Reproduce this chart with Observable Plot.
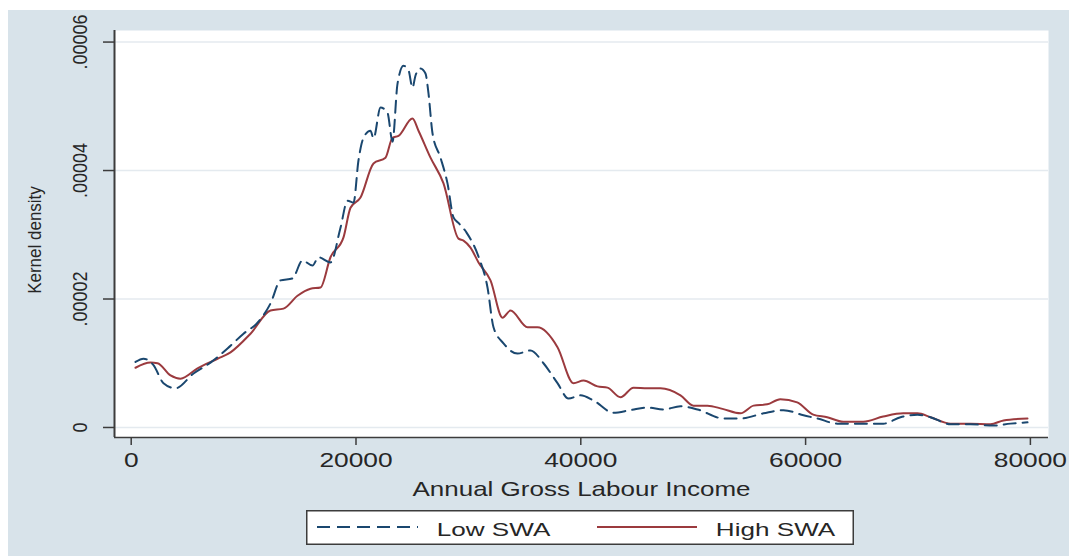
<!DOCTYPE html>
<html>
<head>
<meta charset="utf-8">
<script src="https://cdn.jsdelivr.net/npm/d3@7"></script>
<script src="https://cdn.jsdelivr.net/npm/@observablehq/plot@0.6"></script>
<style>
  body { margin: 0; background: #ffffff; font-family: "Liberation Sans", Arial, sans-serif; }
  #panel { position: absolute; left: 8px; top: 10px; width: 1061px; height: 546px; background: #d8e3ea; overflow: hidden; }
  #chart { position: absolute; left: 0; top: 0; }
  #legend { position: absolute; left: 298px; top: 500px; }
</style>
</head>
<body>
<div id="panel">
  <div id="chart"></div>
  <div id="legend"></div>
</div>
<script>
// Kernel density estimates of annual gross labour income, by SWA group
const lowIncome = [383, 1094, 1985, 2873, 3941, 5543, 7055, 8568, 9991, 11237, 12393, 13283, 14351, 15240, 16130, 16664, 17731, 18621, 19244, 19778, 20222, 20667, 21290, 21557, 22180, 22802, 23247, 23692, 24226, 24671, 25027, 25294, 25738, 26183, 26450, 26806, 27518, 28141, 28674, 29140, 29850, 30920, 31699, 32233, 33123, 34368, 35525, 36681, 37927, 38905, 39973, 41130, 42909, 44422, 45934, 47358, 48870, 50383, 52696, 54209, 56255, 58034, 59814, 61059, 62839, 65152, 66931, 68444, 69956, 71113, 72892, 74672, 76718, 78231, 79743];
const lowDensity = [1.02e-5, 1.07e-5, 0.97e-5, 0.69e-5, 0.61e-5, 0.84e-5, 1.01e-5, 1.23e-5, 1.46e-5, 1.63e-5, 1.93e-5, 2.29e-5, 2.32e-5, 2.60e-5, 2.52e-5, 2.65e-5, 2.57e-5, 3.11e-5, 3.53e-5, 3.50e-5, 4.16e-5, 4.51e-5, 4.62e-5, 4.50e-5, 4.98e-5, 4.90e-5, 4.45e-5, 5.35e-5, 5.63e-5, 5.56e-5, 5.29e-5, 5.48e-5, 5.59e-5, 5.51e-5, 5.20e-5, 4.58e-5, 4.20e-5, 3.80e-5, 3.27e-5, 3.18e-5, 3.03e-5, 2.65e-5, 2.18e-5, 1.56e-5, 1.31e-5, 1.15e-5, 1.20e-5, 1.00e-5, 0.69e-5, 0.45e-5, 0.50e-5, 0.42e-5, 0.23e-5, 0.27e-5, 0.31e-5, 0.28e-5, 0.33e-5, 0.28e-5, 0.14e-5, 0.14e-5, 0.22e-5, 0.27e-5, 0.19e-5, 0.14e-5, 0.06e-5, 0.06e-5, 0.06e-5, 0.16e-5, 0.20e-5, 0.16e-5, 0.05e-5, 0.05e-5, 0.03e-5, 0.06e-5, 0.08e-5];

const highIncome = [383, 1717, 2340, 3497, 4386, 5899, 7678, 8835, 10614, 12393, 13550, 14796, 15952, 16842, 17731, 18888, 19511, 20400, 21557, 22624, 23247, 23781, 25027, 25560, 26628, 27785, 29119, 29564, 30187, 30899, 31966, 33034, 33746, 35258, 36148, 37927, 39351, 40240, 41486, 42375, 43532, 44688, 45934, 47091, 48870, 50027, 51272, 52600, 54209, 55374, 56586, 57742, 59255, 60679, 61924, 63348, 65127, 66906, 68686, 69956, 71113, 72892, 74672, 76451, 77608, 79743];
const highDensity = [0.93e-5, 1.01e-5, 1.00e-5, 0.81e-5, 0.76e-5, 0.92e-5, 1.07e-5, 1.17e-5, 1.46e-5, 1.82e-5, 1.85e-5, 2.05e-5, 2.16e-5, 2.18e-5, 2.65e-5, 2.96e-5, 3.42e-5, 3.58e-5, 4.11e-5, 4.20e-5, 4.51e-5, 4.54e-5, 4.81e-5, 4.62e-5, 4.20e-5, 3.80e-5, 2.94e-5, 2.91e-5, 2.80e-5, 2.57e-5, 2.29e-5, 1.71e-5, 1.82e-5, 1.56e-5, 1.56e-5, 1.25e-5, 0.69e-5, 0.73e-5, 0.64e-5, 0.62e-5, 0.47e-5, 0.62e-5, 0.61e-5, 0.61e-5, 0.50e-5, 0.34e-5, 0.34e-5, 0.29e-5, 0.22e-5, 0.34e-5, 0.36e-5, 0.44e-5, 0.39e-5, 0.20e-5, 0.16e-5, 0.09e-5, 0.09e-5, 0.17e-5, 0.22e-5, 0.22e-5, 0.16e-5, 0.06e-5, 0.06e-5, 0.05e-5, 0.11e-5, 0.14e-5];

const xTicks = [0, 20000, 40000, 60000, 80000];
const xTickLabels = ["0", "20000", "40000", "60000", "80000"];
const yTicks = [0, 0.00002, 0.00004, 0.00006];
const yTickLabels = ["0", ".00002", ".00004", ".00006"];

const seriesNames = ["Low SWA", "High SWA"];
const xLabel = "Annual Gross Labour Income";
const yLabel = "Kernel density";

const navy = "#1a476f";
const maroon = "#9b3a3e";
const ink = "#262626";

const low = lowIncome.map((x, i) => ({income: x, density: lowDensity[i]}));
const high = highIncome.map((x, i) => ({income: x, density: highDensity[i]}));

// plot region extends a little beyond the tick range on every side
const xDomain = [-1486, 81611];
const yDomain = [-0.00000156, 0.0000618];

const chart = Plot.plot({
  width: 1061,
  height: 490,
  marginLeft: 106,
  marginRight: 21,
  marginTop: 20,
  marginBottom: 63,
  x: {domain: xDomain},
  y: {domain: yDomain},
  style: {background: "transparent", color: ink, fontFamily: "'Liberation Sans', Arial, sans-serif", overflow: "visible"},
  marks: [
    Plot.frame({fill: "white", stroke: null}),
    Plot.gridY(yTicks, {stroke: "#e4eaef", strokeOpacity: 1, strokeWidth: 1.5}),
    Plot.ruleX([xDomain[0]], {stroke: "#3c3c3c", strokeWidth: 2}),
    Plot.ruleY([yDomain[0]], {stroke: "#3c3c3c", strokeWidth: 1.6}),
    Plot.axisX({ticks: xTicks, tickSize: 8, tickPadding: 8, tickFormat: (d, i) => xTickLabels[i], fontSize: 19.5, label: null, stroke: "#3c3c3c", strokeWidth: 1.5}),
    Plot.axisY({ticks: yTicks, tickSize: 11, tickFormat: () => "", label: null, stroke: "#3c3c3c", strokeWidth: 1.5}),
    Plot.text(yTicks, {x: xDomain[0], y: (d) => d, text: (d, i) => yTickLabels[i], rotate: -90, dx: -34, fontSize: 18, textAnchor: "middle", lineAnchor: "middle", fill: ink}),
    Plot.text([xLabel], {frameAnchor: "bottom", dy: 52, fontSize: 20, textAnchor: "middle", lineAnchor: "middle", fill: ink}),
    Plot.text([yLabel], {frameAnchor: "left", dx: -80, dy: 6, rotate: -90, fontSize: 17, textAnchor: "middle", lineAnchor: "middle", fill: ink}),
    Plot.line(high, {x: "income", y: "density", stroke: maroon, strokeWidth: 2, curve: "monotone-x"}),
    Plot.line(low, {x: "income", y: "density", stroke: navy, strokeWidth: 2, strokeDasharray: "12,7", curve: "monotone-x"})
  ]
});
document.getElementById("chart").appendChild(chart);

// widen the lettering: horizontal text is drawn wider, rotated text a bit thicker
function stretchText(el, sx, sy) {
  let t = el.getAttribute("transform");
  if (!t) {
    const x = +el.getAttribute("x") || 0, y = +el.getAttribute("y") || 0;
    el.setAttribute("x", 0); el.setAttribute("y", 0);
    t = `translate(${x},${y})`;
  }
  el.setAttribute("transform", `${t} scale(${sx},${sy})`);
}
chart.querySelectorAll("text").forEach((el) => {
  const t = el.getAttribute("transform") || "";
  if (t.includes("rotate")) stretchText(el, 1, 1.12);
  else if (el.textContent === xLabel) stretchText(el, 1.3, 1);
  else stretchText(el, 1.35, 1);
});

// legend box below the plot
const leg = d3.select("#legend").append("svg").attr("width", 548).attr("height", 35);
leg.append("rect").attr("x", 0.75).attr("y", 0.75).attr("width", 546.5).attr("height", 33.5)
  .attr("fill", "white").attr("stroke", "#3c3c3c").attr("stroke-width", 1.5);
leg.append("line").attr("x1", 11).attr("x2", 112).attr("y1", 17).attr("y2", 17)
  .attr("stroke", navy).attr("stroke-width", 2).attr("stroke-dasharray", "13,7");
leg.append("line").attr("x1", 291).attr("x2", 391).attr("y1", 17).attr("y2", 17)
  .attr("stroke", maroon).attr("stroke-width", 2);
[[seriesNames[0], 187.5], [seriesNames[1], 469.5]].forEach(([name, cx]) => {
  leg.append("text").text(name)
    .attr("transform", `translate(${cx},26) scale(1.45,1)`)
    .attr("text-anchor", "middle")
    .attr("font-size", 18)
    .attr("font-family", "'Liberation Sans', Arial, sans-serif")
    .attr("fill", ink);
});
</script>
</body>
</html>
